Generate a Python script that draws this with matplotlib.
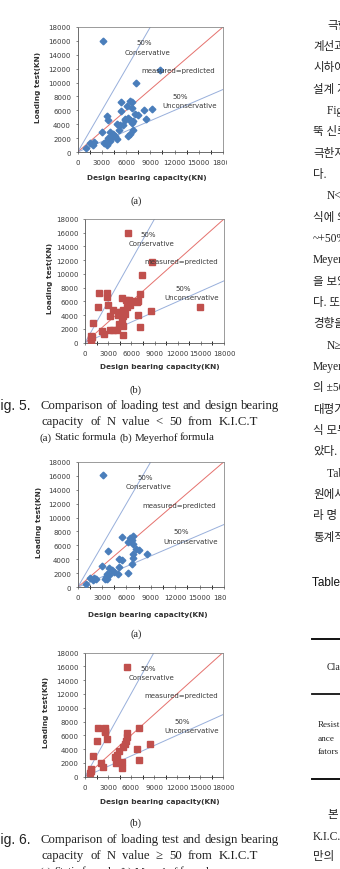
import matplotlib
matplotlib.use("Agg")
import matplotlib.pyplot as plt
from matplotlib.lines import Line2D
from matplotlib.transforms import Bbox, TransformedBbox

# data (KN)
a_x = [3170, 10220, 7170, 5400, 6760, 6470, 6060, 5360, 3670, 3790, 6760, 8240, 9150,
       7050, 7500, 4860, 5230, 5640, 5890, 6470, 6260, 6760, 8450, 6800, 6430, 6260,
       3050, 4000, 4410, 4610, 5070, 3790, 4240, 4820, 3300, 3580, 3500, 3960, 1520,
       1940, 2060, 1030, 6900, 6570, 5860]
a_y = [15980, 11760, 9890, 7200, 7150, 7340, 6580, 5860, 5230, 4660, 6340, 6050, 6240,
       5470, 5380, 4030, 3940, 3890, 4660, 4660, 4940, 4180, 4700, 3220, 2590, 2260,
       2930, 2830, 2640, 2350, 3120, 1970, 2210, 1870, 1300, 1060, 1390, 1630, 1300,
       1060, 1390, 580, 4420, 4420, 4750]

b_x = [5530, 8640, 7430, 1860, 2810, 2810, 1730, 3020, 3670, 3240, 1080, 4750, 5310,
       5660, 6260, 6700, 6910, 7130, 5830, 5490, 4620, 4970, 5180, 4970, 6910, 8550,
       14900, 7130, 4750, 4450, 4100, 4880, 4880, 3590, 3240, 2160, 2510, 730, 730,
       730, 950, 4400, 4300]
b_y = [16000, 11690, 9850, 7180, 7180, 6600, 5190, 5480, 4750, 3880, 2910, 6500, 6210,
       6210, 6010, 5920, 6110, 7080, 5530, 5240, 4410, 4750, 4170, 3930, 4030, 4660,
       5190, 2330, 3200, 2720, 1840, 2470, 1120, 1840, 1840, 1750, 1260, 1020, 530,
       190, 780, 4500, 4000]

c_x = [3160, 5490, 6440, 6850, 6720, 6230, 6770, 3770, 7130, 7590, 6770, 6770, 8570,
       5080, 5410, 6720, 3030, 3900, 4180, 4470, 5040, 6230, 3650, 5000, 3490, 3650,
       3850, 3320, 1520, 1930, 2010, 2260, 1030]
c_y = [16040, 7210, 7070, 7310, 6830, 6490, 6260, 5200, 5490, 5400, 4820, 4250, 4730,
       4110, 3960, 3390, 3010, 2770, 2440, 2200, 2910, 2050, 1960, 1960, 1480, 1190,
       1770, 1240, 1340, 1100, 1380, 1150, 530]

d_x = [5440, 1740, 2650, 2650, 2570, 1610, 2830, 1000, 7000, 5440, 5440, 5350, 5260,
       5000, 4390, 4220, 3920, 4130, 4050, 4830, 6830, 8440, 7000, 4790, 2040, 2390,
       740, 740, 650]
d_y = [15940, 7050, 7050, 6670, 6520, 5220, 5510, 2990, 7100, 6280, 5700, 5120, 4730,
       4250, 3770, 3190, 2800, 2220, 1930, 2170, 4060, 4730, 2410, 1210, 1930, 1450,
       1110, 770, 480]

ticks_x = list(range(0, 18001, 3000))
ticks_y = list(range(0, 18001, 2000))

W, H = 340, 870
fig = plt.figure(figsize=(W / 100, H / 100), dpi=100)


def fx(x):
    return x / W


def fy(y):
    return 1 - y / H


def chart(box, xs, ys, marker, color, ms, ylab_x, xlab_y, xlab_cx, clip_right=None):
    l, r, t, b = box
    ax = fig.add_axes([fx(l), fy(b), (r - l) / W, (b - t) / H])
    ax.set_xlim(0, 18000)
    ax.set_ylim(0, 18000)
    ax.plot([0, 18000], [0, 18000], color='#e5716d', lw=0.7, zorder=2)
    ax.plot([0, 9000], [0, 18000], color='#98afdb', lw=0.7, zorder=2)
    ax.plot([0, 18000], [0, 9000], color='#98afdb', lw=0.7, zorder=2)
    ax.plot(xs, ys, ls='none', marker=marker, ms=ms, color=color, mec=color, zorder=3)

    tk = dict(fontsize=5, color='#3a3a3a', ha='center', va='center', zorder=4)
    ax.text(8250, 15800, '50%', **tk)
    ax.text(8650, 14450, 'Conservative', **tk)
    ax.text(12500, 11850, 'measured=predicted', **tk)
    ax.text(12700, 8000, '50%', **tk)
    ax.text(13850, 6700, 'Unconservative', **tk)

    for s in ax.spines.values():
        s.set_color('#8a8a8a')
        s.set_linewidth(0.6)
    ax.spines['left'].set_color('#555555')
    ax.spines['bottom'].set_color('#555555')

    ax.set_xticks(ticks_x)
    ax.set_xticks(range(1500, 18000, 3000), minor=True)
    ax.set_yticks(ticks_y)
    ax.tick_params(axis='both', labelsize=5, labelcolor='#3a3a3a', color='#555555',
                   width=0.5)
    ax.tick_params(axis='x', which='both', direction='inout', length=3, pad=3.5)
    ax.tick_params(axis='y', direction='out', length=1.8, pad=3)
    if clip_right is not None:
        cb = TransformedBbox(Bbox([[0, 0], [clip_right / W, 1]]), fig.transFigure)
        for tick in ax.xaxis.get_major_ticks():
            tick.label1.set_clip_box(cb)
            tick.label1.set_clip_on(True)

    fig.text(fx(ylab_x), fy((t + b) / 2 - 3), 'Loading test(KN)', rotation=90,
             fontsize=5.3, fontweight='bold', color='#333333', ha='center', va='center')
    fig.text(fx(xlab_cx), fy(xlab_y), 'Design bearing capacity(KN)', fontsize=5.3,
             fontweight='bold', color='#333333', ha='center', va='center')
    return ax


chart((77.7, 223, 28, 153), a_x, a_y, 'D', '#4a7ebb', 3.4, 38, 178, 147, clip_right=226.5)
chart((85, 224, 220, 343.7), b_x, b_y, 's', '#c0504d', 4.0, 50, 367, 160)
chart((77.7, 224, 462.7, 588.3), c_x, c_y, 'D', '#4a7ebb', 3.4, 39, 615, 148, clip_right=226.5)
chart((85, 223, 653.5, 777.7), d_x, d_y, 's', '#c0504d', 4.0, 46, 802, 159.5)

serif = ['Liberation Serif', 'DejaVu Serif']
sans = ['Liberation Sans', 'DejaVu Sans']
renderer = fig.canvas.get_renderer()


def justify(line, x0, x1, y, size):
    words = line.split(' ')
    texts = [fig.text(0, 0, w, fontsize=size, family=serif, va='center', color='#222222')
             for w in words]
    widths = [t.get_window_extent(renderer).width for t in texts]
    gap = (x1 - x0 - sum(widths)) / (len(words) - 1)
    x = x0
    for t, w in zip(texts, widths):
        t.set_position((fx(x), fy(y)))
        x += w + gap


for lab, y in [('(a)', 201), ('(b)', 390), ('(a)', 634), ('(b)', 823)]:
    fig.text(fx(136), fy(y), lab, fontsize=7.5, family=serif, ha='center', va='center',
             color='#222222')

captions = [
    (406.5, 'Fig. 5.', 'capacity of N value < 50 from K.I.C.T'),
    (840.5, 'Fig. 6.', 'capacity of N value \u2265 50 from K.I.C.T'),
]
for y, fig_no, second in captions:
    fig.text(fx(-8.3), fy(y), fig_no, fontsize=10, family=sans, va='center',
             color='#222222')
    justify('Comparison of loading test and design bearing', 40.7, 279.3, y, 9.2)
    justify(second, 41.7, 258.3, y + 15.5, 9.2)
    justify('(a) Static formula (b) Meyerhof formula', 40, 215, y + 31.5, 7.9)

# right-hand text column, cut off by the page edge
body = [
    (26, 1, '극한지지력'), (47, 0, '계선과'), (68, 0, '시하여'), (90, 0, '설계 지지력'),
    (111, 1, 'Fig. 5'), (132, 0, '뚝 신뢰'), (154, 0, '극한지지'), (175, 0, '다.'),
    (196, 1, 'N<50'), (218, 0, '식에 의한'), (239, 0, '~+50%'), (260, 0, 'Meyerhof'),
    (282, 0, '을 보였'), (303, 0, '다. 또한'), (324, 0, '경향을'), (346, 1, 'N\u226550'),
    (367, 0, 'Meyerhof'), (388, 0, '의 \u00b150%'), (410, 0, '대평가'), (431, 0, '식 모두'),
    (452, 0, '았다.'), (474, 1, 'Table 4'), (495, 0, '원에서'), (516, 0, '라 명'),
    (538, 0, '통계적'), (815, 1, '본'), (837, 0, 'K.I.C.T'), (857, 0, '만의'),
]
kr = ['Liberation Serif', 'Noto Sans CJK KR']
for y, ind, s in body:
    fig.text(fx(313 + 14 * ind), fy(y), s, fontsize=8.3, family=kr, va='center',
             color='#222222')

fig.text(fx(312.5), fy(583), 'Table 4.', fontsize=8.5, family=sans, va='center',
         color='#111111')
fig.text(fx(327), fy(667), 'Classification', fontsize=7, family=serif, va='center',
         color='#222222')
for y, s in [(725, 'Resist'), (739, 'ance'), (752, 'fators')]:
    fig.text(fx(318), fy(y), s, fontsize=6.6, family=serif, va='center', color='#222222')
for y, lw in [(640, 1.4), (695, 1.3), (780, 1.4)]:
    fig.add_artist(Line2D([fx(312), fx(341)], [fy(y), fy(y)], color='#111111', lw=lw))

fig.savefig('out.png', dpi=100)
